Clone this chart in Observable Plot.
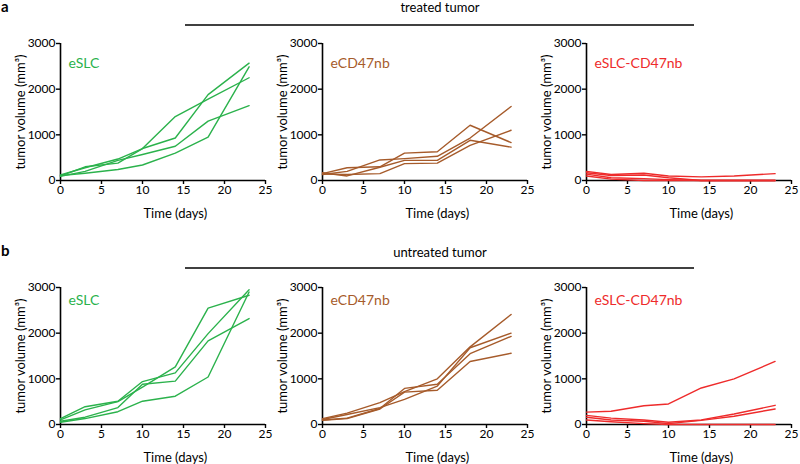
<!DOCTYPE html>
<html><head><meta charset="utf-8">
<script src="https://cdn.jsdelivr.net/npm/d3@7"></script>
<script src="https://cdn.jsdelivr.net/npm/@observablehq/plot@0.6"></script>
<style>
body{margin:0;background:#fff;}
#root{position:relative;width:800px;height:464px;overflow:hidden;font-family:Lato, sans-serif;}
.panel{position:absolute;}
#overlay{position:absolute;left:0;top:0;}
</style></head><body><div id="root"></div>
<script>
const days = [0, 3, 7, 10, 14, 18, 23];
const xTicks = [0, 5, 10, 15, 20, 25];
const yTicks = [0, 1000, 2000, 3000];
const groups = ["eSLC", "eCD47nb", "eSLC-CD47nb"];
const groupColors = ["#2bb24c", "#a65b2b", "#ee2b2b"];
const rowTitles = ["treated tumor", "untreated tumor"];
const rowLetters = ["a", "b"];
const xLabel = "Time (days)";
const yLabel = "tumor volume (mm³)";

// treated tumor
const treatedESLC = [
  [100, 300, 380, 700, 1400, 1780, 2250],
  [120, 280, 470, 700, 930, 1880, 2570],
  [90, 200, 440, 570, 750, 1300, 1640],
  [110, 160, 240, 340, 600, 950, 2490]
];
const treatedECD47nb = [
  [150, 280, 300, 600, 630, 1210, 830],
  [130, 200, 450, 480, 530, 930, 1620],
  [170, 100, 290, 440, 440, 880, 730],
  [140, 130, 150, 370, 380, 770, 1100]
];
const treatedESLCCD47nb = [
  [200, 130, 160, 100, 80, 100, 150],
  [170, 110, 120, 60, 0, 0, 0],
  [140, 60, 40, 20, 0, 0, 0],
  [100, 30, 0, 0, 0, 0, 0]
];
// untreated tumor
const untreatedESLC = [
  [100, 320, 500, 820, 1260, 2550, 2830],
  [130, 390, 510, 940, 1130, 1990, 2950],
  [70, 160, 370, 880, 950, 1830, 2320],
  [50, 130, 280, 510, 620, 1040, 2900]
];
const untreatedECD47nb = [
  [130, 250, 480, 720, 1000, 1700, 2410],
  [110, 220, 370, 550, 840, 1680, 2000],
  [100, 140, 350, 790, 880, 1550, 1930],
  [90, 130, 340, 710, 750, 1380, 1560]
];
const untreatedESLCCD47nb = [
  [270, 290, 410, 450, 800, 1000, 1380],
  [200, 140, 100, 50, 100, 230, 420],
  [160, 100, 70, 20, 90, 180, 340],
  [100, 60, 20, 0, 0, 0, 0]
];

const rows = [
  [treatedESLC, treatedECD47nb, treatedESLCCD47nb],
  [untreatedESLC, untreatedECD47nb, untreatedESLCCD47nb]
];

const root = document.getElementById("root");
const panelLefts = [0, 262, 526];
const rowTops = [0, 244];
const nameOffsets = [20, 13];

function panel(series, color, name, nameDy) {
  const data = [];
  series.forEach((vals, m) => vals.forEach((v, i) => data.push({day: days[i], vol: v, mouse: m})));
  return Plot.plot({
    width: 280, height: 225,
    marginLeft: 60, marginRight: 15, marginTop: 43, marginBottom: 45,
    style: {background: "transparent", overflow: "visible", fontFamily: "Lato, sans-serif", fontSize: "12px", color: "black"},
    x: {domain: [0, 25]},
    y: {domain: [0, 3000]},
    marks: [
      Plot.axisX({ticks: xTicks, tickSize: 4, tickPadding: 1, label: null, tickFormat: d => String(d), strokeWidth: 1.4}),
      Plot.axisY({ticks: yTicks, tickSize: 4, tickPadding: 1, label: null, tickFormat: d => String(d), strokeWidth: 1.4}),
      Plot.ruleY([0], {strokeWidth: 1.6}),
      Plot.ruleX([0], {strokeWidth: 1.6}),
      Plot.line(data, {x: "day", y: "vol", z: "mouse", stroke: color, strokeWidth: 1.4}),
      Plot.text([name], {frameAnchor: "top-left", dx: 8, dy: nameDy, fill: color, fontSize: 14, textAnchor: "start", lineAnchor: "middle"}),
      Plot.text([yLabel], {frameAnchor: "left", rotate: -90, dx: -40, fontSize: 13, textAnchor: "middle", lineAnchor: "middle"}),
      Plot.text([xLabel], {x: 14, y: 0, dy: 33, fontSize: 13, textAnchor: "middle", lineAnchor: "middle"})
    ]
  });
}

rows.forEach((row, r) => {
  row.forEach((series, c) => {
    const chart = panel(series, groupColors[c], groups[c], nameOffsets[r]);
    chart.classList.add("panel");
    chart.style.left = panelLefts[c] + "px";
    chart.style.top = rowTops[r] + "px";
    root.appendChild(chart);
  });
});

// header annotations
const ns = "http://www.w3.org/2000/svg";
const svg = document.createElementNS(ns, "svg");
svg.setAttribute("id", "overlay");
svg.setAttribute("width", 800);
svg.setAttribute("height", 464);
const headerY = [{letter: 12, title: 12, line: 25}, {letter: 256, title: 257, line: 268}];
rowTitles.forEach((t, r) => {
  const h = headerY[r];
  const letter = document.createElementNS(ns, "text");
  letter.setAttribute("x", 1); letter.setAttribute("y", h.letter);
  letter.setAttribute("font-family", "Lato, sans-serif");
  letter.setAttribute("font-weight", "bold"); letter.setAttribute("font-size", 15);
  letter.textContent = rowLetters[r];
  svg.appendChild(letter);
  const title = document.createElementNS(ns, "text");
  title.setAttribute("x", 440); title.setAttribute("y", h.title);
  title.setAttribute("text-anchor", "middle");
  title.setAttribute("font-family", "Lato, sans-serif"); title.setAttribute("font-size", 13);
  title.textContent = t;
  svg.appendChild(title);
  const line = document.createElementNS(ns, "line");
  line.setAttribute("x1", 185); line.setAttribute("x2", 694);
  line.setAttribute("y1", h.line); line.setAttribute("y2", h.line);
  line.setAttribute("stroke", "black"); line.setAttribute("stroke-width", 1.5);
  svg.appendChild(line);
});
root.appendChild(svg);
</script>
</body></html>
